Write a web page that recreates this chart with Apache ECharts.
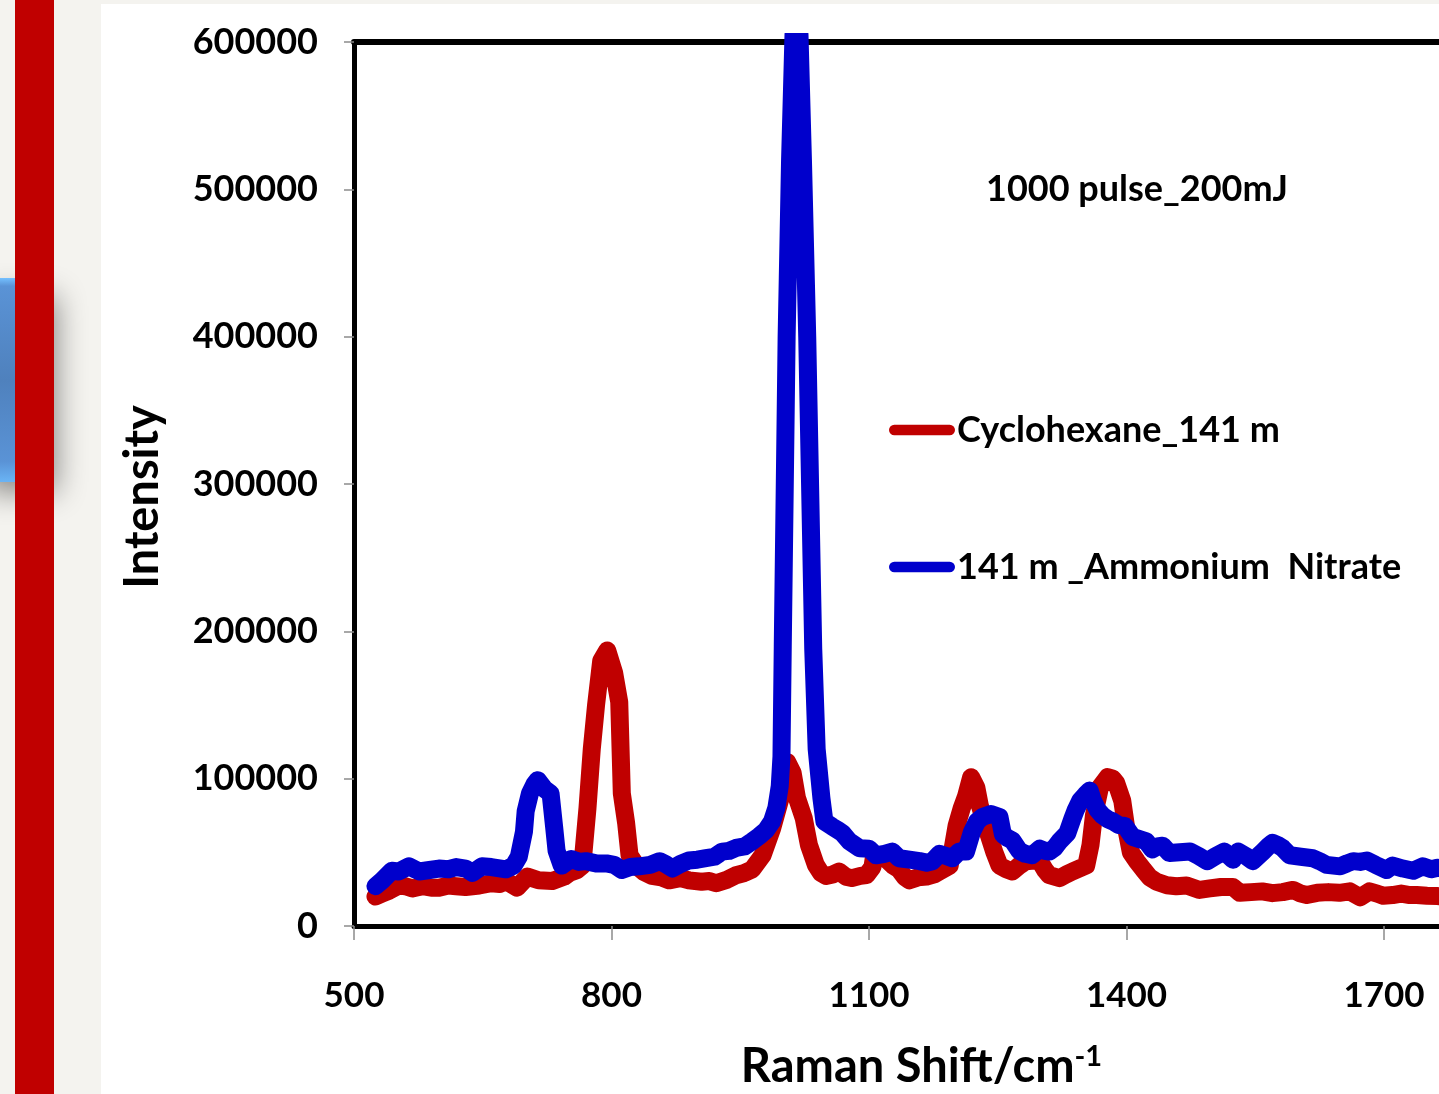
<!DOCTYPE html>
<html>
<head>
<meta charset="utf-8">
<title>Raman spectra</title>
<script src="https://cdn.jsdelivr.net/npm/echarts@6/dist/echarts.min.js"></script>
<style>
  body { margin: 0; background: #f4f3ef; }
  #main { width: 1439px; height: 1094px; }
</style>
</head>
<body>
<div id="main"></div>
<script>
// Raman shift (cm-1) and intensity
var cycloShift = [525, 533, 541, 552, 560, 568, 580, 590, 599, 610, 619, 630, 646, 660, 670, 677, 690, 702, 715, 731,
  745, 751, 760, 766, 772, 777, 782, 788, 795, 803, 809, 812, 817, 821, 829, 838, 847, 858, 867, 880,
  890, 905, 914, 922, 935, 945, 955, 964, 976, 987, 998, 1005, 1011, 1016, 1024, 1030, 1038, 1044, 1050, 1058,
  1065, 1073, 1080, 1090, 1097, 1104, 1106, 1112, 1120, 1128, 1135, 1142, 1147, 1157, 1167, 1176, 1182, 1194, 1202, 1208,
  1213, 1219, 1225, 1229, 1235, 1240, 1246, 1252, 1260, 1267, 1275, 1283, 1292, 1299, 1305, 1310, 1322, 1330, 1337, 1345,
  1353, 1358, 1362, 1369, 1378, 1384, 1388, 1395, 1400, 1405, 1412, 1420, 1427, 1435, 1447, 1458, 1470, 1485, 1497, 1510,
  1524, 1532, 1545, 1558, 1570, 1582, 1594, 1603, 1610, 1622, 1635, 1648, 1660, 1672, 1683, 1692, 1699, 1710, 1720, 1730,
  1738, 1750, 1762, 1770];
var cycloIntensity = [20000, 22000, 24000, 27500, 27000, 25500, 27000, 26000, 26000, 27500, 27000, 26500, 27500, 29000, 28500, 30500, 26000, 33500, 31000, 30500,
  33500, 36000, 38000, 41000, 80000, 120000, 150000, 180000, 187000, 172000, 152000, 90000, 70000, 48000, 41000, 36500, 34000, 33000, 31000, 32500,
  31000, 30000, 30500, 29000, 31500, 34500, 36000, 38500, 48000, 66000, 89000, 111000, 104000, 87000, 73000, 55000, 41500, 36000, 34000, 35000,
  37000, 33500, 32500, 34000, 34500, 40000, 48000, 47000, 45500, 41000, 38500, 33000, 31000, 33000, 33500, 35000, 37000, 41000, 68000, 80000,
  88000, 101000, 94000, 82000, 70000, 61000, 50000, 41000, 38500, 37000, 41000, 44000, 44500, 44000, 38000, 34500, 32500, 35000, 37000, 39000,
  41000, 55000, 75000, 94000, 101000, 100000, 97000, 85000, 65000, 50000, 44000, 38000, 33000, 30000, 27700, 27000, 27500, 24500, 25500, 26500,
  26500, 22500, 23000, 23500, 22300, 23000, 24500, 22000, 21000, 22500, 23000, 22500, 23500, 19500, 23500, 22000, 20500, 21000, 22000, 21000,
  21000, 20500, 20300, 20000];

var nitrateShift = [525, 533, 544, 552, 564, 576, 588, 599, 610, 619, 630, 638, 649, 660, 677, 686, 692, 698, 700, 705,
  710, 714, 718, 722, 729, 733, 736, 742, 753, 762, 770, 782, 794, 803, 812, 822, 832, 845, 856, 863,
  871, 880, 890, 900, 910, 920, 929, 937, 945, 955, 964, 972, 980, 987, 992, 996, 998, 999.5, 1004, 1008, 1012,
  1019, 1023, 1028, 1035, 1039, 1044.5, 1048, 1057, 1064, 1069, 1077, 1089, 1100, 1108, 1118, 1127, 1135, 1147, 1159, 1167, 1174,
  1182, 1190, 1197, 1205, 1213, 1220, 1226, 1232, 1242, 1252, 1256, 1262, 1267, 1275, 1282, 1290, 1299, 1305, 1310, 1316,
  1322, 1331, 1337, 1341, 1346, 1352, 1357, 1361, 1366, 1372, 1378, 1384, 1391, 1398, 1407, 1415, 1423, 1430, 1436, 1442,
  1450, 1462, 1474, 1484, 1494, 1504, 1514, 1524, 1530, 1539, 1547, 1559, 1565, 1570, 1576, 1582, 1590, 1603, 1617, 1625,
  1633, 1641, 1649, 1657, 1664, 1672, 1680, 1690, 1703, 1710, 1722, 1734, 1745, 1755, 1762, 1770];
var nitrateIntensity = [27000, 31000, 37500, 37000, 40500, 37000, 38000, 39000, 38500, 40000, 39000, 36000, 40500, 40000, 38500, 41000, 47000, 64000, 78000, 90000,
  96000, 99000, 96000, 93000, 90000, 68000, 51000, 41000, 45500, 43500, 44000, 42500, 42500, 41500, 38000, 40000, 40500, 41500, 44000, 42000,
  39000, 42000, 44500, 45000, 46000, 47000, 50500, 51000, 53000, 54000, 57500, 61000, 65000, 71000, 80000, 95000, 115000, 190000, 400000, 520000, 605000,
  605000, 520000, 400000, 188000, 120000, 87000, 71000, 67500, 65000, 63000, 57500, 52800, 52500, 48000, 49000, 50500, 46000, 45000, 44000, 43000, 44000,
  49000, 47500, 46000, 50500, 50500, 64000, 71000, 74000, 76000, 74000, 62000, 59500, 58000, 51000, 49000, 48000, 52500, 51000, 50500, 53000,
  57500, 63000, 73000, 79000, 85000, 89000, 92000, 85000, 79000, 75000, 72500, 71000, 68500, 68000, 60500, 59000, 57500, 52000, 54000, 54500,
  49500, 50000, 50500, 47500, 44000, 47500, 50500, 45000, 50500, 47500, 44000, 50500, 54000, 56500, 55000, 52800, 48000, 47000, 46000, 44000,
  41500, 41000, 40500, 42500, 44000, 43500, 44500, 41500, 38000, 41000, 39000, 37500, 40500, 38500, 39500, 39000];

var seriesNames = ['Cyclohexane_141 m', '141 m _Ammonium  Nitrate'];
var seriesColors = ['#c00000', '#0000cc'];
var xTicks = { min: 500, max: 1764, interval: 300 };
var yTicks = { min: 0, max: 600000, interval: 100000 };

function pairs(xs, ys) {
  let out = [];
  for (let i = 0; i < xs.length; i++) {
    out.push([xs[i], ys[i]]);
  }
  return out;
}

function plain(v) {
  return String(v);
}

var font = 'Lato, "Noto Sans", sans-serif';
var capsule = 'path://M5,0 H57 A5,5 0 0 1 57,10 H5 A5,5 0 0 1 5,0 Z';

var myChart = echarts.init(document.getElementById('main'));
var option = {
  backgroundColor: '#f4f3ef',
  animation: false,
  grid: {
    left: 354,
    right: 0,
    top: 42,
    bottom: 168,
    outerBoundsMode: 'none'
  },
  legend: [{
    data: [seriesNames[0]],
    left: 884,
    top: 407,
    icon: capsule,
    itemWidth: 66,
    itemHeight: 11,
    textStyle: { fontSize: 36, fontWeight: 'bold', fontFamily: font, color: '#000', padding: [0, 0, 0, -3] }
  }, {
    data: [seriesNames[1]],
    left: 884,
    top: 544,
    icon: capsule,
    itemWidth: 66,
    itemHeight: 11,
    textStyle: { fontSize: 36, fontWeight: 'bold', fontFamily: font, color: '#000', padding: [0, 0, 0, -3] }
  }],
  xAxis: [{
    type: 'value',
    min: xTicks.min,
    max: xTicks.max,
    interval: xTicks.interval,
    name: '{a|Raman Shift/cm}{b|-1}',
    nameLocation: 'middle',
    nameGap: 116,
    nameTextStyle: {
      padding: [0, 0, 0, 50],
      rich: {
        a: { fontSize: 47, fontWeight: 'bold', fontFamily: font, color: '#000' },
        b: { fontSize: 29, fontWeight: 'bold', fontFamily: font, color: '#000', verticalAlign: 'top', padding: [0, 0, 20, 0] }
      }
    },
    axisLine: { lineStyle: { color: '#000', width: 5 } },
    axisTick: { length: 14, lineStyle: { color: '#8c8c8c', width: 1.5 } },
    axisLabel: {
      margin: 52,
      showMinLabel: true,
      showMaxLabel: false,
      fontSize: 35,
      fontWeight: 'bold',
      fontFamily: font,
      color: '#000',
      formatter: plain
    },
    splitLine: { show: false }
  }, {
    type: 'value',
    position: 'top',
    min: xTicks.min,
    max: xTicks.max,
    interval: xTicks.interval,
    axisLine: { lineStyle: { color: '#000', width: 6 } },
    axisTick: { show: false },
    axisLabel: { show: false },
    splitLine: { show: false }
  }],
  yAxis: {
    type: 'value',
    min: yTicks.min,
    max: yTicks.max,
    interval: yTicks.interval,
    name: 'Intensity',
    nameLocation: 'middle',
    nameGap: 188,
    nameTextStyle: {
      fontSize: 47,
      fontWeight: 'bold',
      fontFamily: font,
      color: '#000',
      padding: [0, 26, 0, 0]
    },
    axisLine: { show: true, lineStyle: { color: '#000', width: 5 } },
    axisTick: { show: true, length: 10, lineStyle: { color: '#8c8c8c', width: 1.5 } },
    axisLabel: {
      margin: 36,
      fontSize: 36,
      fontWeight: 'bold',
      fontFamily: font,
      color: '#000',
      formatter: plain
    },
    splitLine: { show: false }
  },
  graphic: {
    elements: [
      // white slide panel
      { type: 'rect', z: -10, shape: { x: 101, y: 4, width: 1338, height: 1090 }, style: { fill: '#ffffff' } },
      // soft shadow cast by the arrow piece
      {
        type: 'rect', z: -9, shape: { x: -20, y: 282, width: 70, height: 196 },
        style: {
          fill: '#4f81bd',
          shadowBlur: 30,
          shadowOffsetX: 6,
          shadowOffsetY: 14,
          shadowColor: 'rgba(0,0,0,0.45)'
        }
      },
      // blue arrow piece behind the bar
      {
        type: 'rect', z: -8, shape: { x: 0, y: 278, width: 15, height: 204 },
        style: {
          fill: new echarts.graphic.LinearGradient(0, 0, 0, 1, [
            { offset: 0, color: '#74c0ff' },
            { offset: 0.04, color: '#5a93d6' },
            { offset: 0.5, color: '#4f81bd' },
            { offset: 0.9, color: '#5a93d6' },
            { offset: 1, color: '#6ab4f5' }
          ])
        }
      },
      { type: 'rect', z: -7, shape: { x: 15, y: 0, width: 39, height: 1094 }, style: { fill: '#c00000' } },
      {
        type: 'text',
        x: 986,
        y: 189,
        style: {
          text: '1000 pulse_200mJ',
          fontSize: 36,
          fontWeight: 'bold',
          fontFamily: font,
          fill: '#000',
          verticalAlign: 'middle'
        }
      }
    ]
  },
  series: [{
    name: seriesNames[0],
    type: 'line',
    symbol: 'none',
    clip: true,
    color: seriesColors[0],
    lineStyle: { width: 18, cap: 'round', join: 'round' },
    data: pairs(cycloShift, cycloIntensity)
  }, {
    name: seriesNames[1],
    type: 'line',
    symbol: 'none',
    clip: true,
    color: seriesColors[1],
    lineStyle: { width: 18, cap: 'round', join: 'round' },
    data: pairs(nitrateShift, nitrateIntensity)
  }]
};

myChart.setOption(option);
</script>
</body>
</html>
